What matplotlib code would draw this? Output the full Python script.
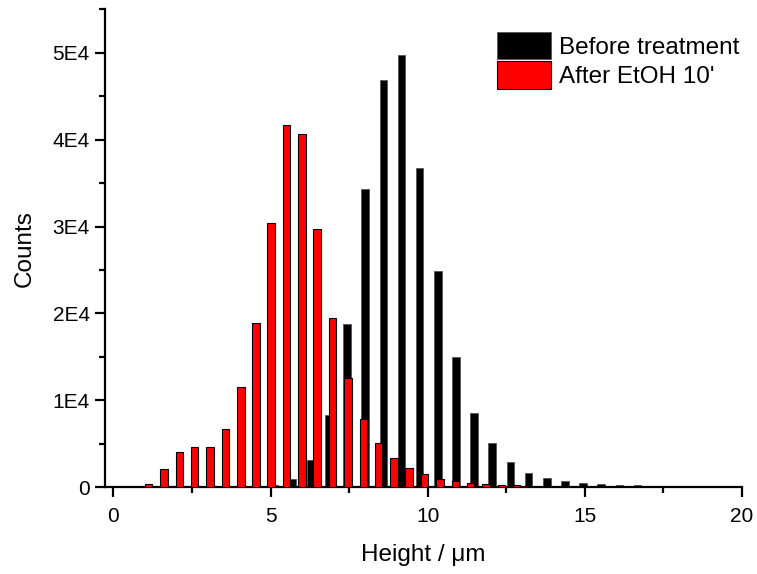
import matplotlib
matplotlib.use("Agg")
import matplotlib.pyplot as plt
from matplotlib.ticker import FixedLocator, MultipleLocator

plt.rcParams['font.family'] = ['Liberation Sans', 'DejaVu Sans']

# Histogram bin centres (µm) and counts
before_centers = [5.12, 5.70, 6.28, 6.85, 7.43, 8.01, 8.59, 9.17, 9.74, 10.32,
                  10.90, 11.48, 12.05, 12.63, 13.21, 13.79, 14.36, 14.94,
                  15.52, 16.10, 16.67, 17.25]
before_counts = [230, 1000, 3100, 8280, 18750, 34300, 46860, 49740, 36730, 24900,
                 15000, 8600, 5050, 2930, 1650, 1030, 690, 440,
                 330, 280, 230, 180]

after_centers = [1.12, 1.61, 2.10, 2.58, 3.07, 3.56, 4.05, 4.53, 5.02, 5.51,
                 6.00, 6.48, 6.97, 7.46, 7.95, 8.44, 8.92, 9.41, 9.90, 10.39,
                 10.88, 11.36, 11.85, 12.34, 12.83]
after_counts = [410, 2070, 4100, 4670, 4670, 6680, 11510, 18920, 30460, 41710,
                40640, 29770, 19460, 12620, 7830, 5070, 3340, 2190, 1530, 990,
                720, 460, 350, 300, 250]

x_ticks = [0, 5, 10, 15, 20]
x_tick_labels = ['0', '5', '10', '15', '20']
y_ticks = [0, 10000, 20000, 30000, 40000, 50000]
y_tick_labels = ['0', '1E4', '2E4', '3E4', '4E4', '5E4']

series_labels = ['Before treatment', "After EtOH 10'"]

fig = plt.figure(figsize=(7.57, 5.74), dpi=100)
ax = fig.add_axes([0.1387, 0.1511, 0.9802 - 0.1387, 0.9838 - 0.1511])

bar_w = 0.24
ax.bar(before_centers, before_counts, width=bar_w, color='black',
       edgecolor='#555555', linewidth=0.6, label=series_labels[0], zorder=2)
ax.bar(after_centers, after_counts, width=bar_w, color='#ff0000',
       edgecolor='black', linewidth=0.8, label=series_labels[1], zorder=3)

ax.set_xlim(-0.27, 20)
ax.set_ylim(0, 55000)

for side in ('top', 'right'):
    ax.spines[side].set_visible(False)
for side in ('left', 'bottom'):
    ax.spines[side].set_linewidth(1.6)

ax.xaxis.set_major_locator(FixedLocator(x_ticks))
ax.set_xticklabels(x_tick_labels)
ax.xaxis.set_minor_locator(MultipleLocator(2.5))
ax.yaxis.set_major_locator(FixedLocator(y_ticks))
ax.set_yticklabels(y_tick_labels)
ax.yaxis.set_minor_locator(MultipleLocator(5000))

ax.tick_params(which='major', direction='out', length=7, width=1.6,
               labelsize=15, pad=4)
ax.tick_params(axis='x', which='major', pad=7)
ax.tick_params(which='minor', direction='out', length=4, width=1.6)

ax.set_xlabel('Height / μm', fontsize=17.5, labelpad=13)
ax.set_ylabel('Counts', fontsize=17.5, labelpad=12)

ax.legend(loc='upper left', bbox_to_anchor=(0.615, 0.953), frameon=False,
          fontsize=17.5, handlelength=2.25, handleheight=1.35,
          handletextpad=0.3, labelspacing=0.1, borderpad=0, borderaxespad=0)

fig.savefig('out.png', dpi=100)
